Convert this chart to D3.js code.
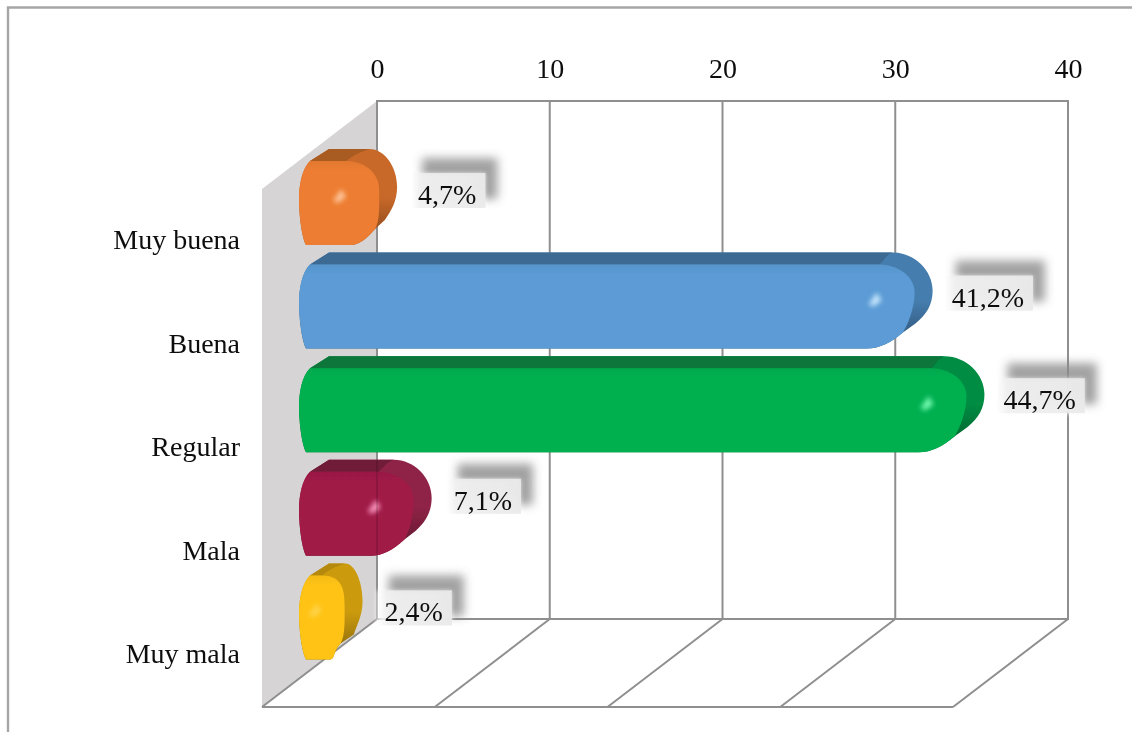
<!DOCTYPE html>
<html><head><meta charset="utf-8">
<script src="https://cdn.jsdelivr.net/npm/d3@7"></script>
<style>html,body{margin:0;padding:0;background:#fff;overflow:hidden}svg{display:block}text{font-family:"Liberation Serif",serif;fill:#111}</style>
</head><body><svg id="c" width="1132" height="732"></svg>
<script>
const categories = ["Muy buena","Buena","Regular","Mala","Muy mala"];
const counts = [4,35,38,6,2];
const percentLabels = ["4,7%","41,2%","44,7%","7,1%","2,4%"];
const axisTicks = [0,10,20,30,40];
const faceColors = ["#ED7D31","#5B9BD5","#00B050","#A01A47","#FFC314"];
const sideColors = ["#C8692A","#457DAE","#028C42","#8E2346","#CC9B10"];
const topColors  = ["#A85B20","#3E6A93","#08773B","#701B38","#B5890F"];
const glowColors = ["#FFC9A0","#CDEBFF","#7CFFB8","#FF9CC4","#FFE27A"];
const labelShiftY = [2,1,0,-3,5];
const labelShiftX = [2,0,0,3,3];

const W=1132,H=732, fs=28;
const svg=d3.select("#c");
const defs=svg.append("defs");
defs.append("filter").attr("id","soft").attr("x","-5%").attr("y","-5%").attr("width","110%").attr("height","110%")
  .append("feGaussianBlur").attr("stdDeviation",0.45);
defs.append("filter").attr("id","blurS").attr("x","-30%").attr("y","-30%").attr("width","160%").attr("height","160%")
  .append("feGaussianBlur").attr("stdDeviation",5);
defs.append("filter").attr("id","blurG").attr("x","-100%").attr("y","-100%").attr("width","300%").attr("height","300%")
  .append("feGaussianBlur").attr("stdDeviation",2.4);
defs.append("filter").attr("id","blurB").attr("x","-30%").attr("y","-30%").attr("width","160%").attr("height","160%")
  .append("feGaussianBlur").attr("stdDeviation",2);
faceColors.forEach((c,i)=>{
  const g=defs.append("linearGradient").attr("id","side"+i).attr("x1",0).attr("x2",0).attr("y1",0).attr("y2",1);
  g.append("stop").attr("offset",0).attr("stop-color",sideColors[i]);
  g.append("stop").attr("offset",.5).attr("stop-color",sideColors[i]);
  g.append("stop").attr("offset",.8).attr("stop-color",d3.color(sideColors[i]).darker(.7));
  const f=defs.append("linearGradient").attr("id","face"+i).attr("x1",0).attr("x2",0).attr("y1",0).attr("y2",1);
  f.append("stop").attr("offset",0).attr("stop-color",d3.color(faceColors[i]).darker(.12));
  f.append("stop").attr("offset",.12).attr("stop-color",faceColors[i]);
  f.append("stop").attr("offset",1).attr("stop-color",faceColors[i]);
});
const lb=defs.append("linearGradient").attr("id","lbl");
lb.append("stop").attr("offset",0).attr("stop-color","#f2f2f2").attr("stop-opacity",.15);
lb.append("stop").attr("offset",.12).attr("stop-color","#efefef").attr("stop-opacity",.85);
lb.append("stop").attr("offset",1).attr("stop-color","#e9e9e9").attr("stop-opacity",.92);

const x=d3.scaleLinear().domain([0,40]).range([377,1068]);
const y=d3.scaleBand().domain(categories).range([149,659.4]).paddingInner(.0734);
const backTop=101, backBottom=619, dx=-115, dy=88, gridColor="#8f8f8f";
const root=svg.append("g").attr("filter","url(#soft)");

root.append("path").attr("d",`M8,${H}V7.5H${W}`).attr("fill","none").attr("stroke","#a6a6a6").attr("stroke-width",2.4);
root.append("path").attr("d",`M${x(0)},${backTop}V${backBottom}L${x(0)+dx},${backBottom+dy}V${backTop+dy}Z`).attr("fill","#d6d4d5");

const grid=root.append("g").attr("fill","none").attr("stroke",gridColor).attr("stroke-width",2);
grid.append("rect").attr("x",x(0)).attr("y",backTop).attr("width",x(40)-x(0)).attr("height",backBottom-backTop);
grid.selectAll(".v").data(axisTicks).join("line").attr("x1",d=>x(d)).attr("x2",d=>x(d)).attr("y1",backTop).attr("y2",backBottom);
grid.selectAll(".f").data(axisTicks).join("line").attr("x1",d=>x(d)).attr("x2",d=>x(d)+dx).attr("y1",backBottom).attr("y2",backBottom+dy);
grid.append("line").attr("x1",x(0)+dx).attr("x2",x(40)+dx).attr("y1",backBottom+dy).attr("y2",backBottom+dy);

const ax=root.append("g").attr("transform",`translate(0,${backTop})`)
  .call(d3.axisTop(x).tickValues(axisTicks).tickSize(0).tickPadding(23).tickFormat(d3.format("d")));
ax.select(".domain").remove();
ax.selectAll("text").attr("font-size",fs).style("font-family",'"Liberation Serif",serif').attr("fill","#111").attr("stroke","none");

root.selectAll(".cat").data(categories).join("text").attr("class","cat")
  .attr("x",240).attr("y",d=>y(d)+100).attr("text-anchor","end").attr("font-size",fs).text(d=>d);

const barEnd=v=>x(v)-49;
const L=299;
const leftEdge=(t,b)=>`M${L+7},${b}C${L+2},${b-10} ${L},${t+62} ${L},${t+50}C${L},${t+36} ${L+3},${t+20} ${L+11},${t+12}`;
function radii(E){const len=E-L;return {top:Math.min(40,Math.max(15,(len-6)*.3)),bot:Math.min(66,8+.4*len)};}
function mergeX(E){return E-Math.max(radii(E).bot*.45,22);}
const lowerEdge=(E,t,b)=>{const r=radii(E),m=mergeX(E);
  return `C${m-(E-m)*.4},${t+90} ${E-r.bot*.8},${b} ${E-r.bot},${b}Z`;};
function silhouette(E,t,b){const r=radii(E),m=mergeX(E);
  return leftEdge(t,b)+`L${L+30},${t}L${E-r.top},${t}C${E-r.top*.45},${t} ${E},${t+18} ${E},${t+38}C${E},${t+52} ${E-6},${t+62} ${E-r.bot*.26},${t+71}L${m},${t+80}`+lowerEdge(E,t,b);}
function faceStart(E){return E-18-Math.min(35,radii(E).top+5);}
function topBand(E,t){const r=radii(E),s=faceStart(E);
  return `M${L+11},${t+12}L${L+30},${t}L${E-r.top},${t}C${E-r.top-6},${t+2} ${s+6},${t+6} ${s},${t+12}Z`;}
function face(E,t,b){const s=faceStart(E),m=mergeX(E);
  return leftEdge(t,b)+`L${s},${t+12}C${s+18},${t+12} ${E-18},${t+24} ${E-18},${t+40}C${E-18},${t+55} ${m+5},${t+72} ${m},${t+80}`+lowerEdge(E,t,b);}
const bars=root.selectAll(".bar").data(categories).join("g").attr("class","bar");
bars.each(function(c,i){
  const g=d3.select(this),E=barEnd(counts[i]),t=y(c),b=t+y.bandwidth();
  g.append("path").attr("d",silhouette(E,t,b)).attr("fill",`url(#side${i})`);
  g.append("path").attr("d",topBand(E,t)).attr("fill",topColors[i]);
  g.append("path").attr("d",face(E,t,b)).attr("fill",`url(#face${i})`);
  const hx=E-(counts[i]<3?47:57), hy=t+48;
  g.append("path").attr("d",`M${hx-7},${hy+4}L${hx+1},${hy-8}L${hx+6},${hy}L${hx-2},${hy+6}Z`)
    .attr("fill",glowColors[i]).attr("filter","url(#blurG)").attr("opacity",counts[i]<3?.55:.95);
});
root.append("line").attr("x1",x(0)).attr("x2",x(0)).attr("y1",y("Mala")+1).attr("y2",y("Mala")+y.bandwidth()-1)
  .attr("stroke","#000").attr("stroke-opacity",.16).attr("stroke-width",1.6);

const lab=root.selectAll(".lab").data(percentLabels).join("g").attr("class","lab");
lab.each(function(txt,i){
  const g=d3.select(this),E=barEnd(counts[i]),t=y(categories[i]),base=t+53+labelShiftY[i],tx=E+19+labelShiftX[i];
  const tmp=g.append("text").attr("font-size",fs).text(txt);
  const w=tmp.node().getComputedTextLength(); tmp.remove();
  g.append("rect").attr("x",tx+4).attr("y",base-46).attr("width",w+17).attr("height",41).attr("fill","#8a8a8a").attr("opacity",.8).attr("filter","url(#blurS)");
  g.append("rect").attr("x",tx-8).attr("y",base-31).attr("width",w+17).attr("height",36).attr("fill","#fff").attr("filter","url(#blurB)").attr("opacity",.7);
  g.append("rect").attr("x",tx-6).attr("y",base-31).attr("width",w+15).attr("height",35).attr("fill","url(#lbl)");
  g.append("text").attr("x",tx).attr("y",base).attr("font-size",fs).text(txt);
});
</script></body></html>
